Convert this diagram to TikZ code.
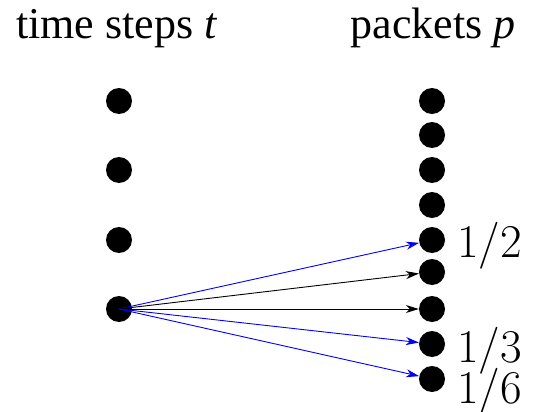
\documentclass[tikz,border=0pt]{standalone}
\usepackage{fontspec}
\setmainfont{Liberation Serif}
\usetikzlibrary{arrows.meta}
\begin{document}
\begin{tikzpicture}[x=1pt,y=-1pt,
 dot/.style={circle,fill=black,inner sep=0pt,minimum size=26pt},
 arr/.style={-{Stealth[length=13pt,width=8pt,inset=4pt]},line width=0.9pt},
 lbl/.style={font=\fontsize{44}{52}\selectfont,inner sep=0pt},
 frac/.style={font=\fontfamily{lmr}\fontsize{47}{56}\selectfont,inner sep=0pt,anchor=base west}]
\useasboundingbox (0,0) rectangle (533,412);
\node[dot] (t1) at (119,101) {};
\node[dot] (t2) at (119,170) {};
\node[dot] (t3) at (119,240) {};
\node[dot] (t4) at (119,309) {};
\node[dot] (p1) at (432,101) {};
\node[dot] (p2) at (432,135) {};
\node[dot] (p3) at (432,170) {};
\node[dot] (p4) at (432,205) {};
\node[dot] (p5) at (432,240) {};
\node[dot] (p6) at (432,272) {};
\node[dot] (p7) at (432,309) {};
\node[dot] (p8) at (432,344) {};
\node[dot] (p9) at (432,379) {};
\node[lbl,anchor=base west] (tt) at (16,39) {time steps \textit{t}};
\node[lbl,anchor=base east] (pp) at (516,39) {packets \textit{p}};
\node[frac] (f2) at (457,257) {1/2};
\node[frac] (f3) at (457,362) {1/3};
\node[frac] (f6) at (457,403) {1/6};
\draw[arr,blue] (t4.center) -- (p5);
\draw[arr] (t4.center) -- (p6);
\draw[arr] (t4.center) -- (p7);
\draw[arr,blue] (t4.center) -- (p8);
\draw[arr,blue] (t4.center) -- (p9);
\end{tikzpicture}
\end{document}
